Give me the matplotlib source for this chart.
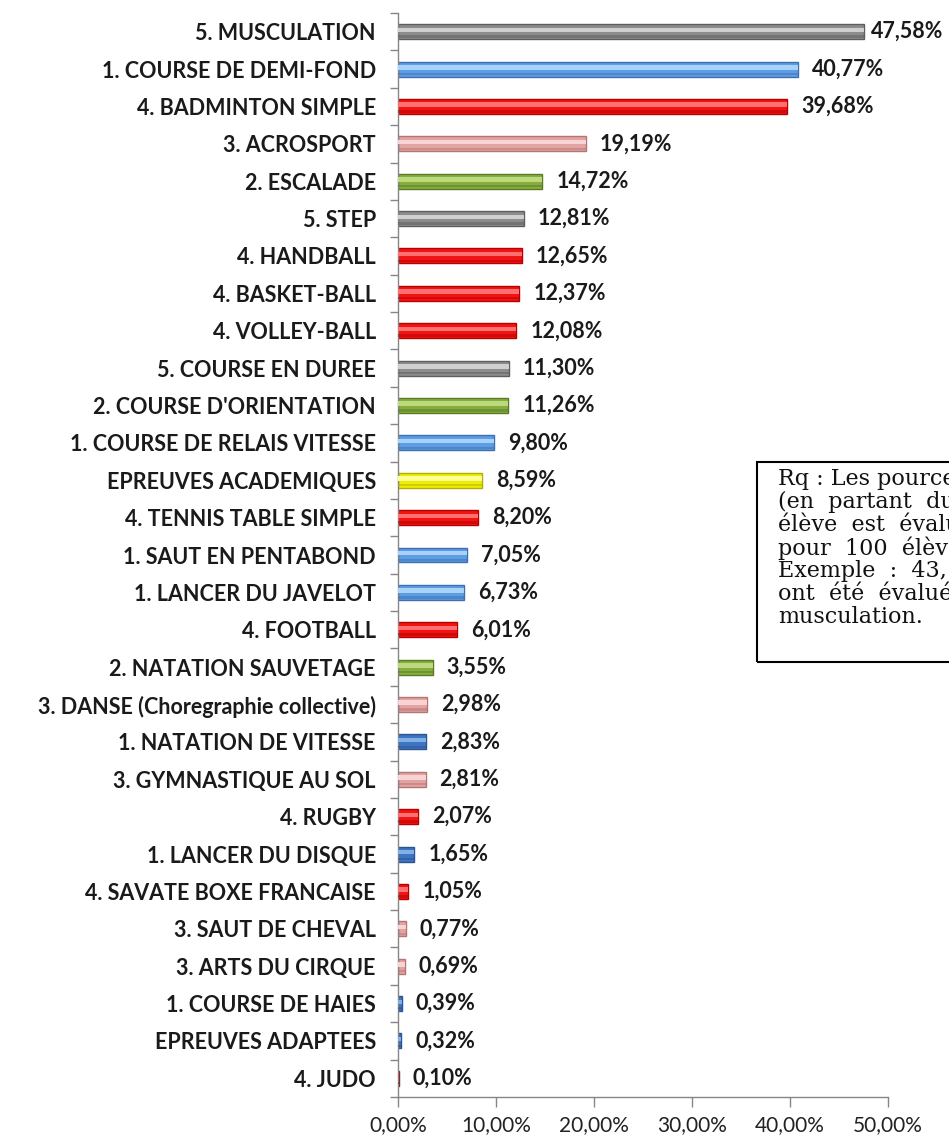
import matplotlib
matplotlib.use("Agg")
import matplotlib.pyplot as plt
import numpy as np

categories = [
    "5. MUSCULATION", "1. COURSE DE DEMI-FOND", "4. BADMINTON SIMPLE", "3. ACROSPORT",
    "2. ESCALADE", "5. STEP", "4. HANDBALL", "4. BASKET-BALL", "4. VOLLEY-BALL",
    "5. COURSE EN DUREE", "2. COURSE D'ORIENTATION", "1. COURSE DE RELAIS VITESSE",
    "EPREUVES ACADEMIQUES", "4. TENNIS TABLE SIMPLE", "1. SAUT EN PENTABOND",
    "1. LANCER DU JAVELOT", "4. FOOTBALL", "2. NATATION SAUVETAGE",
    "3. DANSE (Choregraphie collective)", "1. NATATION DE VITESSE",
    "3. GYMNASTIQUE AU SOL", "4. RUGBY", "1. LANCER DU DISQUE",
    "4. SAVATE BOXE FRANCAISE", "3. SAUT DE CHEVAL", "3. ARTS DU CIRQUE",
    "1. COURSE DE HAIES", "EPREUVES ADAPTEES", "4. JUDO",
]
values = [47.58, 40.77, 39.68, 19.19, 14.72, 12.81, 12.65, 12.37, 12.08, 11.30, 11.26,
          9.80, 8.59, 8.20, 7.05, 6.73, 6.01, 3.55, 2.98, 2.83, 2.81, 2.07, 1.65, 1.05,
          0.77, 0.69, 0.39, 0.32, 0.10]
groups = ["grey", "blue", "red", "pink", "green", "grey", "red", "red", "red", "grey",
          "green", "blue", "yellow", "red", "blue", "blue", "red", "green", "pink",
          "dblue", "pink", "red", "dblue", "red", "pink", "pink", "dblue", "dblue", "dred"]
xticks = [0, 10, 20, 30, 40, 50]

palette = {
    # base, light highlight, dark shade
    "grey":   ("#8c8c8c", "#cfcfcf", "#5e5e5e"),
    "blue":   ("#5d9de3", "#a9d2fa", "#3f6fae"),
    "dblue":  ("#3f74bf", "#7fb0ea", "#2a5590"),
    "red":    ("#f01414", "#ff7070", "#b80000"),
    "dred":   ("#a03030", "#c06060", "#702020"),
    "pink":   ("#e3a3a3", "#f7d3d3", "#b57575"),
    "green":  ("#86ad3e", "#bcd97e", "#5a7a26"),
    "yellow": ("#eeee00", "#ffff99", "#b0b000"),
}

W, H = 949, 1140
fig = plt.figure(figsize=(W / 100, H / 100), dpi=100)
x0, x1 = 398, 888
ytop, ybot = 13, 1097
ax = fig.add_axes([x0 / W, 1 - ybot / H, (x1 - x0) / W, (ybot - ytop) / H])

n = len(categories)
ypos = np.arange(n)
h = 0.4
base = [palette[g][0] for g in groups]
light = [palette[g][1] for g in groups]
dark = [palette[g][2] for g in groups]

ax.barh(ypos, values, height=h, color=base, edgecolor=dark, linewidth=1.0, zorder=2)
ax.barh(ypos - h * 0.12, values, height=h * 0.3, color=light, linewidth=0, zorder=3)
ax.barh(ypos + h * 0.33, values, height=h * 0.16, color=dark, linewidth=0, alpha=0.5, zorder=3)

ax.set_xlim(0, 50)
ax.set_ylim(n - 0.5, -0.5)

fam = ["Lato", "DejaVu Sans"]
ax.set_yticks(ypos)
ax.set_yticklabels(categories, fontsize=15.5, fontweight="bold", family=fam, color="#1a1a1a")
ax.tick_params(axis="y", which="major", length=0, pad=16)
ax.set_yticks(np.arange(-0.5, n, 1.0), minor=True)
ax.tick_params(axis="y", which="minor", length=6, width=1, color="#868686", direction="out")

ax.set_xticks(xticks)
ax.set_xticklabels([f"{t:.2f}%".replace(".", ",") for t in xticks], fontsize=15,
                   family=fam, color="#222222")
ax.tick_params(axis="x", length=7, width=1, color="#868686", pad=6)

for s in ["top", "right"]:
    ax.spines[s].set_visible(False)
for s in ["left", "bottom"]:
    ax.spines[s].set_color("#868686")
    ax.spines[s].set_linewidth(1)

for i, v in enumerate(values):
    off = 7 if i == 0 else 14
    ax.annotate(f"{v:.2f}%".replace(".", ","), (v, i), xytext=(off, 0), textcoords="offset pixels",
                ha="left", va="center", fontsize=15.5, fontweight="bold",
                family=fam, color="#1a1a1a", annotation_clip=False)

# Note box (cut off at the right edge of the figure, as in the reference)
bx, by_top, by_bot = 757, 462, 662
fig.patches.append(matplotlib.patches.Rectangle((bx / W, 1 - by_bot / H), (1100 - bx) / W,
                                                (by_bot - by_top) / H, transform=fig.transFigure,
                                                fill=False, edgecolor="black", linewidth=1.5))
note_lines = [
    "Rq : Les pourcentages",
    "(en  partant  du  principe",
    "élève  est  évalué  sur",
    "pour  100  élèves.",
    "Exemple  :  43,",
    "ont  été  évalués",
    "musculation.",
]
for k, line in enumerate(note_lines):
    fig.text(778 / W, 1 - (479 + 23 * k) / H, line, ha="left", va="center", fontsize=16,
             family=["DejaVu Serif"], color="#111111")

fig.savefig("out.png", dpi=100)
